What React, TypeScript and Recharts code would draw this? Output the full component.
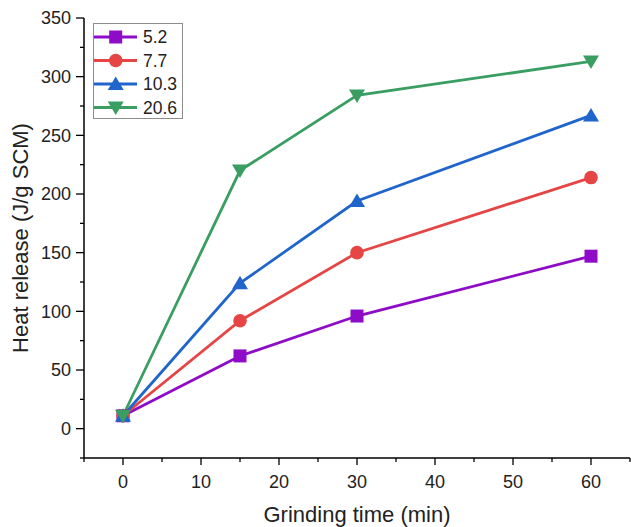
import { Legend, Line, LineChart, XAxis, YAxis } from "recharts";

const grindingTime = [0, 15, 30, 60];
const heat52 = [11, 62, 96, 147];
const heat77 = [11, 92, 150, 214];
const heat103 = [11, 124, 194, 267];
const heat206 = [11, 220, 284, 313];

const seriesNames = ["5.2", "7.7", "10.3", "20.6"];
const xTicks = [-5, 0, 5, 10, 15, 20, 25, 30, 35, 40, 45, 50, 55, 60, 65];
const yTicks = [-25, 0, 25, 50, 75, 100, 125, 150, 175, 200, 225, 250, 275, 300, 325, 350];

const data = grindingTime.map((t, i) => ({
  t,
  s52: heat52[i],
  s77: heat77[i],
  s103: heat103[i],
  s206: heat206[i],
}));

const series = [
  { key: "s52", name: seriesNames[0], color: "#8e0bc8", shape: "square" },
  { key: "s77", name: seriesNames[1], color: "#e64545", shape: "circle" },
  { key: "s103", name: seriesNames[2], color: "#1f65cc", shape: "up" },
  { key: "s206", name: seriesNames[3], color: "#3a9e63", shape: "down" },
];

const font = "'Liberation Sans', Arial, sans-serif";

function Marker({ cx, cy, shape, color }: any) {
  if (shape === "square") {
    return <rect x={cx - 6.5} y={cy - 6.5} width={13} height={13} fill={color} />;
  }
  if (shape === "circle") {
    return <circle cx={cx} cy={cy} r={6.8} fill={color} />;
  }
  if (shape === "up") {
    return <polygon points={`${cx},${cy - 7.5} ${cx + 8},${cy + 6} ${cx - 8},${cy + 6}`} fill={color} />;
  }
  return <polygon points={`${cx},${cy + 7.5} ${cx + 8},${cy - 6} ${cx - 8},${cy - 6}`} fill={color} />;
}

function XTick(props: any) {
  const { x, y, payload } = props;
  const major = payload.value % 10 === 0 && payload.value >= 0 && payload.value <= 60;
  return (
    <g>
      <line x1={x} x2={x} y1={y} y2={y + (major ? 7 : 4)} stroke="#000" strokeWidth={1.3} />
      {major && (
        <text x={x} y={y + 30} textAnchor="middle" fontFamily={font} fontSize={18} fill="#222">
          {payload.value}
        </text>
      )}
    </g>
  );
}

function YTick(props: any) {
  const { x, y, payload } = props;
  const major = payload.value % 50 === 0 && payload.value >= 0;
  return (
    <g>
      <line x1={x - (major ? 8 : 4)} x2={x} y1={y} y2={y} stroke="#000" strokeWidth={1.3} />
      {major && (
        <text x={x - 13} y={y + 6.4} textAnchor="end" fontFamily={font} fontSize={18} fill="#222">
          {payload.value}
        </text>
      )}
    </g>
  );
}

function LegendBox() {
  const rows = [14, 37.5, 61, 84.5];
  return (
    <svg width={90} height={97} style={{ display: "block" }}>
      <rect x={0.5} y={0.5} width={89} height={95} fill="#fff" stroke="#8c8c8c" strokeWidth={1} />
      {series.map((s, i) => (
        <g key={s.key}>
          <line x1={1} x2={44} y1={rows[i]} y2={rows[i]} stroke={s.color} strokeWidth={2.8} />
          <Marker cx={22.7} cy={rows[i]} shape={s.shape} color={s.color} />
          <text x={50} y={rows[i] + 6.3} fontFamily={font} fontSize={17.5} fill="#222">
            {s.name}
          </text>
        </g>
      ))}
    </svg>
  );
}

export default function App() {
  return (
    <div style={{ position: "absolute", left: 0, top: 0, background: "#fff" }}>
      <LineChart width={631} height={527} data={data} margin={{ top: 18, right: 1, left: 0, bottom: 0 }}>
        <XAxis
          dataKey="t"
          type="number"
          domain={[-5, 65]}
          ticks={xTicks}
          interval={0}
          height={69}
          tickLine={false}
          tickSize={0}
          tickMargin={0}
          tick={<XTick />}
          axisLine={{ stroke: "#000", strokeWidth: 1.5 }}
          allowDataOverflow
          label={{
            content: ({ viewBox }: any) => (
              <text
                x={viewBox.x + viewBox.width / 2}
                y={522}
                textAnchor="middle"
                fontFamily={font}
                fontSize={22}
                fill="#222"
              >
                Grinding time (min)
              </text>
            ),
          }}
        />
        <XAxis
          xAxisId="top"
          orientation="top"
          type="number"
          domain={[-5, 65]}
          height={0}
          tick={false}
          tickLine={false}
          axisLine={{ stroke: "#000", strokeWidth: 1.5 }}
        />
        <YAxis
          type="number"
          domain={[-25, 350]}
          ticks={yTicks}
          interval={0}
          width={84}
          tickLine={false}
          tickSize={0}
          tickMargin={0}
          tick={<YTick />}
          axisLine={{ stroke: "#000", strokeWidth: 1.5 }}
          allowDataOverflow
          label={{
            content: () => (
              <text
                x={28}
                y={238}
                transform="rotate(-90, 28, 238)"
                textAnchor="middle"
                fontFamily={font}
                fontSize={22}
                fill="#222"
              >
                Heat release (J/g SCM)
              </text>
            ),
          }}
        />
        <YAxis
          yAxisId="right"
          orientation="right"
          type="number"
          domain={[-25, 350]}
          width={0}
          tick={false}
          tickLine={false}
          axisLine={{ stroke: "#000", strokeWidth: 1.5 }}
        />
        <Legend
          layout="vertical"
          align="center"
          verticalAlign="middle"
          wrapperStyle={{ left: 93, top: 23, width: 90 }}
          content={() => <LegendBox />}
        />
        {series.map((s) => (
          <Line
            key={s.key}
            dataKey={s.key}
            name={s.name}
            type="linear"
            stroke={s.color}
            strokeWidth={2.8}
            isAnimationActive={false}
            dot={(p: any) => <Marker key={`${s.key}-${p.index}`} cx={p.cx} cy={p.cy} shape={s.shape} color={s.color} />}
            activeDot={false}
          />
        ))}
      </LineChart>
    </div>
  );
}
